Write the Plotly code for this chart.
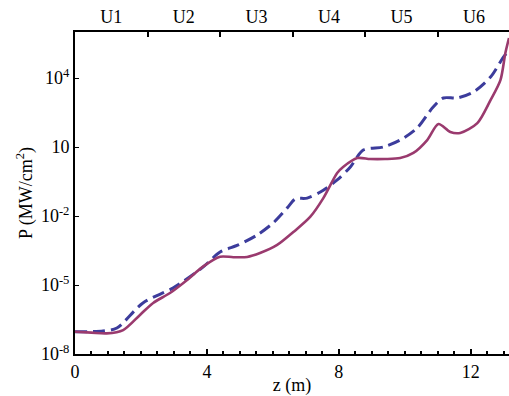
import plotly.graph_objects as go

# Solid curve (z in m, P in MW/cm^2)
z_solid = [0, 0.5, 0.96, 1.46, 1.97, 2.37, 2.88, 3.40, 3.88, 4.40, 4.8, 5.22, 5.61, 6.13,
           6.62, 7.13, 7.53, 7.95, 8.13, 8.56, 8.95, 9.4, 9.86, 10.26, 10.68, 11.02, 11.38,
           11.68, 12.2, 12.6, 12.9, 13.05, 13.16]
p_solid = [9.3e-8, 8.5e-8, 7.9e-8, 1.1e-7, 5.0e-7, 1.66e-6, 4.5e-6, 1.66e-5, 6.3e-5, 1.7e-4,
           1.62e-4, 1.66e-4, 2.45e-4, 5.5e-4, 2.0e-3, 9.1e-3, 0.060, 0.74, 1.35, 3.3, 3.0, 3.0,
           3.3, 5.5, 20, 100, 45, 41, 110, 1100, 8100, 1.23e5, 5.5e5]

# Dashed curve
z_dash = [0, 0.85, 1.27, 2.06, 2.97, 3.88, 4.40, 4.95, 5.52, 6.01, 6.43, 6.68, 7.04, 7.44,
          7.95, 8.35, 8.74, 9.35, 9.86, 10.38, 10.86, 11.17, 11.59, 12.08, 12.6, 12.99, 13.16]
p_dash = [9.3e-8, 1.0e-7, 1.35e-7, 1.66e-6, 7.4e-6, 6.0e-5, 2.7e-4, 5.5e-4, 1.48e-3, 5.0e-3,
          0.022, 0.055, 0.060, 0.11, 0.37, 1.35, 7.4, 10, 20, 68, 550, 1350, 1350, 2450,
          11000, 8.1e4, 1.6e5]

y_tickvals = [1e-8, 1e-5, 1e-2, 10, 1e4]
y_ticktext = ["10<sup>-8</sup>", "10<sup>-5</sup>", "10<sup>-2</sup>", "10", "10<sup>4</sup>"]
x_tickvals = [0, 4, 8, 12]

undulator_labels = ["U1", "U2", "U3", "U4", "U5", "U6"]
undulator_centers = [1.1, 3.3, 5.5, 7.7, 9.9, 12.1]
undulator_bounds = [2.2, 4.4, 6.6, 8.8, 11.0]

font = dict(family="Liberation Serif", size=18, color="black")

fig = go.Figure()
fig.add_trace(go.Scatter(x=z_dash, y=p_dash, mode="lines",
                         line=dict(color="#3c3c9c", width=3, dash="12px,6px", shape="spline", smoothing=0.8),
                         showlegend=False))
fig.add_trace(go.Scatter(x=z_solid, y=p_solid, mode="lines",
                         line=dict(color="#9a3a6e", width=2.6, shape="spline", smoothing=0.8),
                         showlegend=False))
fig.add_trace(go.Scatter(x=z_solid, y=p_solid, mode="lines", xaxis="x2",
                         line=dict(width=0), opacity=0, hoverinfo="skip", showlegend=False))

fig.update_layout(
    width=509, height=396,
    margin=dict(l=75, r=0, t=32, b=42),
    paper_bgcolor="white", plot_bgcolor="white",
    font=font,
    xaxis=dict(range=[0, 13.16], tickvals=x_tickvals, ticks="inside", ticklen=5, tickwidth=1.5,
               tickcolor="black", showline=True, linecolor="black", linewidth=2, showgrid=False,
               zeroline=False, tickfont=font, automargin=False,
               minor=dict(dtick=0.5, tick0=0, ticks="inside", ticklen=3, tickcolor="black", showgrid=False),
               title=dict(text="z (m)", font=font, standoff=0)),
    xaxis2=dict(range=[0, 13.16], overlaying="x", side="top", tickvals=undulator_centers,
                ticktext=undulator_labels, ticks="", showline=True, linecolor="black", linewidth=2,
                showgrid=False, zeroline=False, tickfont=font, automargin=False,
                minor=dict(tickvals=undulator_bounds, ticks="inside", ticklen=5, tickwidth=1.5,
                           tickcolor="black", showgrid=False)),
    yaxis=dict(type="log", range=[-8, 6], tickvals=y_tickvals, ticktext=y_ticktext,
               ticks="inside", ticklen=4, tickcolor="black", showline=True, linecolor="black",
               linewidth=2, showgrid=False, zeroline=False, tickfont=font, automargin=False,
               title=dict(text="P (MW/cm<sup>2</sup>)", font=font, standoff=4)),
)

fig.write_html("out.html", config={"displayModeBar": False},
               post_script="document.body.style.margin='0';")
